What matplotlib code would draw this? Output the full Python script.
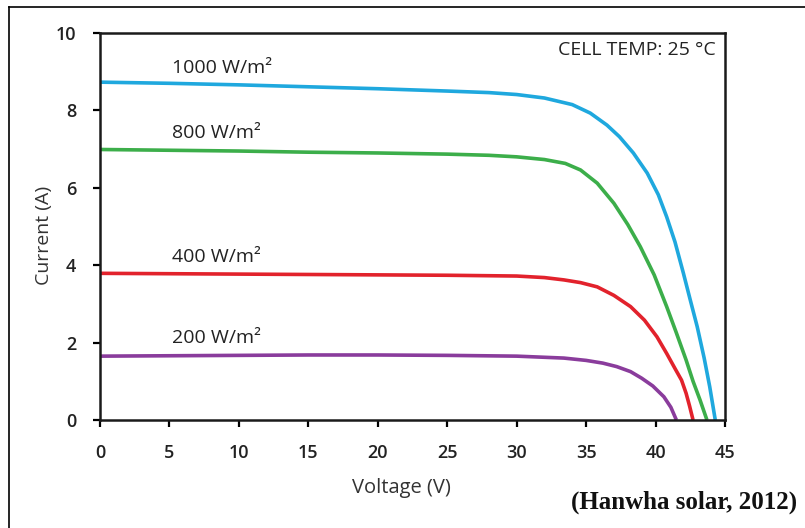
import matplotlib
matplotlib.use("Agg")
import matplotlib.pyplot as plt
from matplotlib.lines import Line2D

# ---- data ----
V_1000 = [0, 5, 10, 15, 20, 25, 28, 30, 32, 34, 35.3, 36.5, 37.4, 38.4, 39.4, 40.2, 40.8, 41.4, 42.0, 42.5, 43.0, 43.5, 43.9, 44.3]
I_1000 = [8.73, 8.70, 8.66, 8.61, 8.56, 8.50, 8.46, 8.41, 8.32, 8.15, 7.93, 7.62, 7.32, 6.90, 6.38, 5.82, 5.25, 4.60, 3.80, 3.10, 2.41, 1.60, 0.86, 0.0]

V_800 = [0, 5, 10, 15, 20, 25, 28, 30, 32, 33.5, 34.6, 35.8, 37.0, 38.0, 38.9, 39.9, 40.8, 41.5, 42.2, 42.7, 43.2, 43.7]
I_800 = [6.99, 6.97, 6.95, 6.92, 6.90, 6.87, 6.84, 6.80, 6.73, 6.63, 6.46, 6.12, 5.60, 5.05, 4.48, 3.75, 2.93, 2.25, 1.55, 1.00, 0.52, 0.0]

V_400 = [0, 5, 10, 15, 20, 25, 30, 32, 33.4, 34.6, 35.8, 37.0, 38.2, 39.2, 40.1, 40.8, 41.4, 41.87, 42.2, 42.45, 42.7]
I_400 = [3.79, 3.78, 3.77, 3.76, 3.75, 3.74, 3.72, 3.68, 3.62, 3.55, 3.44, 3.22, 2.93, 2.58, 2.15, 1.72, 1.33, 1.03, 0.69, 0.36, 0.0]

V_200 = [0, 5, 10, 15, 20, 25, 30, 33.4, 35.0, 36.2, 37.2, 38.2, 39.0, 39.8, 40.6, 41.1, 41.5]
I_200 = [1.65, 1.66, 1.67, 1.68, 1.68, 1.67, 1.65, 1.60, 1.54, 1.47, 1.38, 1.25, 1.08, 0.88, 0.60, 0.33, 0.0]

series_labels = ["1000 W/m²", "800 W/m²", "400 W/m²", "200 W/m²"]
label_pos = [(5.2, 9.1), (5.2, 7.42), (5.2, 4.21), (5.2, 2.12)]
colors = ["#1fa8de", "#3cae4a", "#e2222c", "#8a3c9c"]

x_ticks = [0, 5, 10, 15, 20, 25, 30, 35, 40, 45]
y_ticks = [0, 2, 4, 6, 8, 10]

plt.rcParams['font.family'] = ['Open Sans', 'DejaVu Sans']

fig = plt.figure(figsize=(8.05, 5.28), dpi=100)
ax = fig.add_axes([100/805, 1-420/528, 625/805, 387/528])

for (V, I), c in zip([(V_1000, I_1000), (V_800, I_800), (V_400, I_400), (V_200, I_200)], colors):
    ax.plot(V, I, color=c, lw=2.6, solid_capstyle='butt', solid_joinstyle='round')

for lab, (x, y) in zip(series_labels, label_pos):
    ax.text(x, y, lab, fontsize=14, color='#222222', va='center', ha='left')

ax.text(44.3, 9.55, "CELL TEMP: 25 °C", fontsize=14, color='#222222', ha='right', va='center')

ax.set_xlim(0, 45)
ax.set_ylim(0, 10)
ax.set_xticks(x_ticks)
ax.set_yticks(y_ticks)
ax.tick_params(direction='out', length=5, width=1.6, labelsize=13, pad=12)
for lbl in ax.get_xticklabels() + ax.get_yticklabels():
    lbl.set_fontweight('semibold')
    lbl.set_color('#222222')
for s in ax.spines.values():
    s.set_linewidth(1.8)
    s.set_color('#1a1a1a')

ax.set_xlabel("Voltage (V)", fontsize=14.5, color='#333333')
ax.xaxis.set_label_coords((401.5-100)/625, (420-488)/387)
ax.xaxis.label.set_va('center')
ax.set_ylabel("Current (A)", fontsize=14, color='#333333')
ax.yaxis.set_label_coords((43.5-100)/625, (420-235)/387)
ax.yaxis.label.set_va('center')

fig.text(797/805, 1-502/528, "(Hanwha solar, 2012)", fontsize=18, fontweight='bold',
         family='Liberation Serif', ha='right', va='center', color='#111111')

# page border lines
fig.add_artist(Line2D([9/805, 9/805], [0, 1-7/528], transform=fig.transFigure, color='black', lw=1.2))
fig.add_artist(Line2D([9/805, 1], [1-7/528, 1-7/528], transform=fig.transFigure, color='black', lw=1.2))

fig.savefig("out.png", dpi=100)
